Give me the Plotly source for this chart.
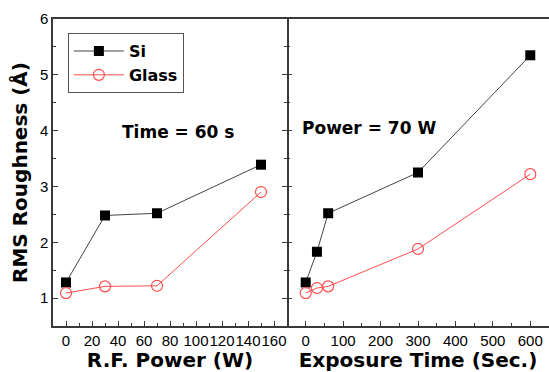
import plotly.graph_objects as go

# Left panel: R.F. power series
power_w = [0, 30, 70, 150]
si_power = [1.28, 2.48, 2.52, 3.39]
glass_power = [1.09, 1.21, 1.22, 2.90]

# Right panel: exposure time series
time_s = [0, 30, 60, 300, 600]
si_time = [1.28, 1.83, 2.52, 3.25, 5.35]
glass_time = [1.09, 1.18, 1.21, 1.88, 3.22]

FONT = "Arial, Liberation Sans, sans-serif"
BOLD = "DejaVu Sans, sans-serif"
BLACK = "#000000"
AX = "#3a3a3a"
RED = "#ff4d4d"

fig = go.Figure()

sq = dict(symbol="square", size=10, color=BLACK)
circ = dict(symbol="circle-open", size=11, color=RED, line=dict(width=1.2, color=RED))

fig.add_trace(go.Scatter(x=power_w, y=si_power, mode="lines+markers", name="Si",
                         line=dict(color="#444444", width=1), marker=sq,
                         xaxis="x", yaxis="y"))
fig.add_trace(go.Scatter(x=power_w, y=glass_power, mode="lines+markers", name="Glass",
                         line=dict(color=RED, width=1), marker=circ,
                         xaxis="x", yaxis="y"))
fig.add_trace(go.Scatter(x=time_s, y=si_time, mode="lines+markers", name="Si",
                         line=dict(color="#444444", width=1), marker=sq,
                         xaxis="x2", yaxis="y2", showlegend=False))
fig.add_trace(go.Scatter(x=time_s, y=glass_time, mode="lines+markers", name="Glass",
                         line=dict(color=RED, width=1), marker=circ,
                         xaxis="x2", yaxis="y2", showlegend=False))

split = 234 / 496

common_axis = dict(linecolor=AX, linewidth=1.5, ticks="inside", automargin=False,
                   ticklen=5, tickwidth=1.2, tickcolor=AX, showgrid=False, zeroline=False,
                   tickfont=dict(family=FONT, size=15, color=BLACK))
title_font = dict(family=BOLD, size=20, color=BLACK, weight="bold")

fig.update_layout(
    width=549, height=372,
    margin=dict(l=53, r=0, t=19, b=46),
    plot_bgcolor="white", paper_bgcolor="white",
    font=dict(family=FONT, color=BLACK),
    xaxis=dict(**common_axis, showline=True, domain=[0, split], range=[-10, 170], tick0=0, dtick=20,
               tickangle=0, ticklabeloverflow="allow",
               mirror=True, minor=dict(ticks="inside", ticklen=3, dtick=10, tick0=0, tickcolor=AX),
               title=dict(text="R.F. Power (W)", font=title_font, standoff=0)),
    yaxis=dict(**common_axis, showline=True, range=[0.5, 6], tick0=0, dtick=1, mirror="ticks",
               minor=dict(ticks="inside", ticklen=3, dtick=0.5, tick0=0, tickcolor=AX),
               title=dict(text="RMS Roughness (Å)", font=title_font, standoff=7)),
    xaxis2=dict(**common_axis, showline=True, domain=[split, 1], range=[-50, 650], tick0=0, dtick=100,
                tickangle=0, mirror=True, anchor="y2",
                minor=dict(ticks="inside", ticklen=3, dtick=50, tick0=0, tickcolor=AX),
                title=dict(text="Exposure Time (Sec.)", font=title_font, standoff=0)),
    yaxis2=dict(**common_axis, showline=False, range=[0.5, 6], tick0=0, dtick=1, anchor="x2",
                showticklabels=False,
                minor=dict(ticks="inside", ticklen=3, dtick=0.5, tick0=0, tickcolor=AX)),
    legend=dict(x=0.03, y=0.954, xanchor="left", yanchor="top",
                bordercolor="#555555", borderwidth=1, bgcolor="white",
                font=dict(family=BOLD, size=16, color=BLACK, weight="bold"),
                tracegroupgap=2, itemwidth=50),
    annotations=[
        dict(text="Time = 60 s", x=86, y=3.97, xref="x", yref="y",
             showarrow=False, font=dict(family=BOLD, size=17, color=BLACK, weight="bold")),
        dict(text="Power = 70 W", x=-15, y=4.05, xref="x2", yref="y2", xanchor="left",
             showarrow=False, font=dict(family=BOLD, size=17, color=BLACK, weight="bold")),
    ],
)

fig.write_html("out.html")
